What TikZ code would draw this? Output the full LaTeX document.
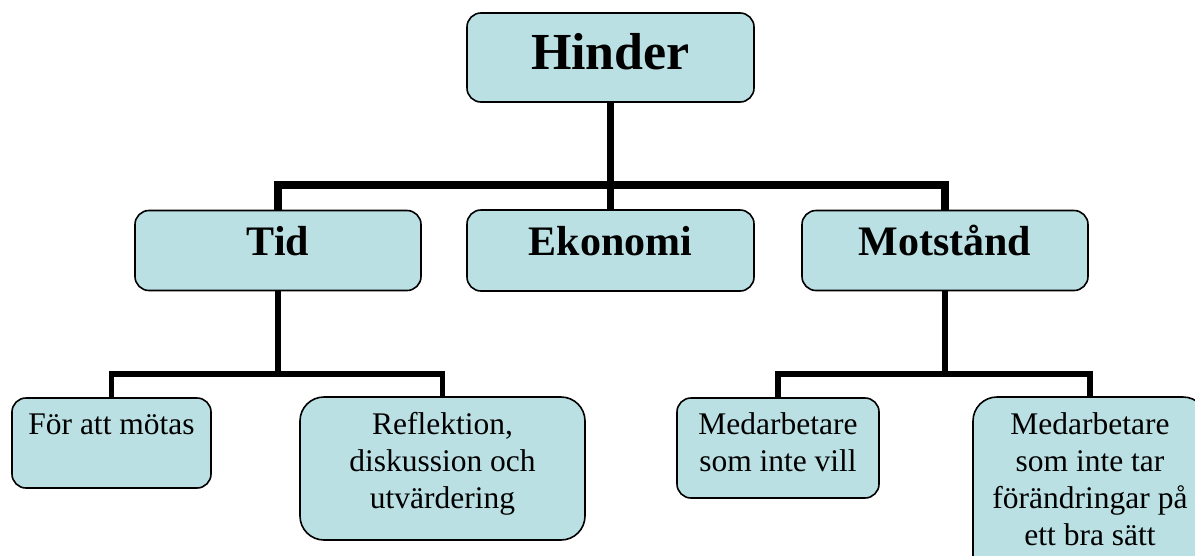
\documentclass[tikz,border=0pt]{standalone}
\usepackage{fontspec}
\setmainfont{Liberation Serif}
\definecolor{boxfill}{RGB}{186,224,227}
\begin{document}
\begin{tikzpicture}[x=1pt,y=-1pt,
  box/.style={draw=black,line width=1.6pt,fill=boxfill,rounded corners=14pt,inner sep=0pt},
  bigbox/.style={box,rounded corners=24pt},
  head/.style={font=\bfseries\fontsize{42}{48}\selectfont,anchor=base,inner sep=0pt},
  sub/.style={font=\fontsize{31.5}{37}\selectfont,anchor=base,inner sep=0pt,align=center},
  conn/.style={line width=7.5pt,line join=miter},
  conn2/.style={line width=5.5pt,line join=miter}]
\useasboundingbox (0,0) rectangle (1195,555);
\clip (0,0) rectangle (1195,555);
% boxes
\node[box,minimum width=287pt,minimum height=89pt] (hinder) at (610.5,57.5) {};
\node[box,minimum width=286pt,minimum height=80pt] (tid) at (278,250.5) {};
\node[box,minimum width=287pt,minimum height=81pt] (eko) at (610.5,250.5) {};
\node[box,minimum width=286pt,minimum height=80pt] (mot) at (945,250.5) {};
\node[box,minimum width=199pt,minimum height=90pt] (fam) at (111.5,443) {};
\node[bigbox,minimum width=285pt,minimum height=143pt] (refl) at (442.5,468.5) {};
\node[box,minimum width=202pt,minimum height=100pt] (med1) at (778,448) {};
\node[bigbox,minimum width=234pt,minimum height=190pt] (med2) at (1090,492) {};
% texts (anchor=base sits on the last line)
\node[head,font=\bfseries\fontsize{52}{60}\selectfont] (thinder) at (610.5,69) {Hinder};
\node[head] (ttid) at (278,255) {Tid};
\node[head] (teko) at (610.5,255) {Ekonomi};
\node[head] (tmot) at (945,255) {Motstånd};
\node[sub] (tfam) at (111.5,434) {För att mötas};
\node[sub] (trefl) at (442.5,508) {Reflektion,\\diskussion och\\utvärdering};
\node[sub] (tmed1) at (778,471) {Medarbetare\\som inte vill};
\node[sub] (tmed2) at (1090,545) {Medarbetare\\som inte tar\\förändringar på\\ett bra sätt};
% connectors
\coordinate (j1) at (610.5,185);
\coordinate (j2) at (278,374);
\coordinate (j3) at (945,374);
\draw[conn] (hinder.south) -- (j1);
\draw[conn] (tid.north) |- (j1) -| (mot.north);
\draw[conn] (j1) -- (eko.north);
\draw[conn2] (tid.south) -- (j2);
\draw[conn2] (fam.north) |- (j2) -| (refl.north);
\draw[conn2] (mot.south) -- (j3);
\draw[conn2] (med1.north) |- (j3) -| (med2.north);
\end{tikzpicture}
\end{document}
